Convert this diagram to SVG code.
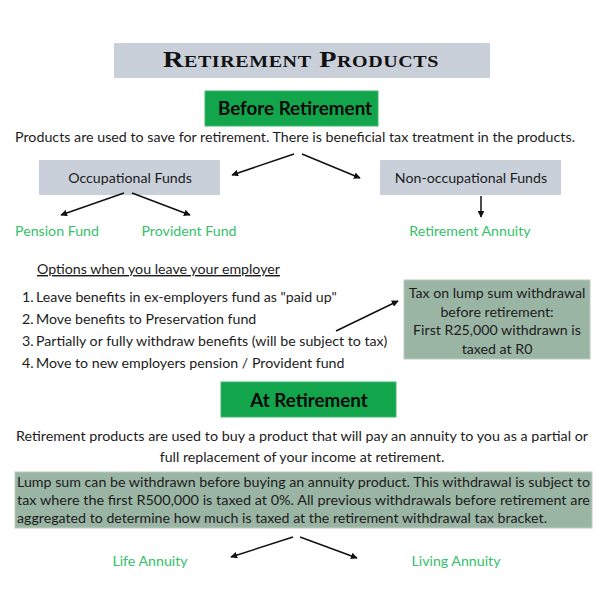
<svg xmlns="http://www.w3.org/2000/svg" width="604" height="604" viewBox="0 0 604 604">
<style>
text{font-family:Lato,"Noto Sans","Liberation Sans",sans-serif;fill:#1c1c1c;font-size:14.2px}
.grey{fill:#c9d0da}
.green{fill:#12a54b;stroke:#3dbb6c;stroke-width:1}
.sage{fill:#9bb5a5;stroke:#b8ccbe;stroke-width:1}
.hd{font-weight:bold;font-size:18.8px;fill:#0a0a0a}
.leaf{fill:#36c16a;font-size:14.2px}
.c{text-anchor:middle}
.conn line{stroke:#111;stroke-width:1.5;marker-end:url(#ah)}
</style>
<defs>
<marker id="ah" viewBox="0 0 10 10" refX="9" refY="5" markerWidth="4.5" markerHeight="4.5" orient="auto" markerUnits="strokeWidth">
<path d="M0,0 L10,5 L0,10 z" fill="#111"/>
</marker>
</defs>
<rect width="604" height="604" fill="#fff"/>

<g id="title">
<rect class="grey" x="114" y="43" width="376" height="35"/>
<text x="301" y="67" class="c" style="font-family:'Liberation Serif','DejaVu Serif',serif;font-weight:bold;font-size:24px;font-variant:small-caps;letter-spacing:0.5px;fill:#111" textLength="276" lengthAdjust="spacingAndGlyphs">Retirement Products</text>
</g>

<g id="before">
<rect class="green" x="205" y="91" width="173" height="35"/>
<text x="295" y="115" class="c hd">Before Retirement</text>
</g>

<g id="intro">
<text x="295" y="142" class="c" textLength="560" lengthAdjust="spacingAndGlyphs">Products are used to save for retirement. There is beneficial tax treatment in the products.</text>
</g>

<g id="occupational">
<rect class="grey" x="39" y="160" width="181" height="35"/>
<text x="130" y="183" class="c">Occupational Funds</text>
</g>

<g id="nonoccupational">
<rect class="grey" x="380" y="160" width="181" height="35"/>
<text x="471" y="183" class="c">Non-occupational Funds</text>
</g>

<g id="pension"><text x="57" y="236" class="c leaf">Pension Fund</text></g>
<g id="provident"><text x="189" y="236" class="c leaf">Provident Fund</text></g>
<g id="ra"><text x="470" y="236" class="c leaf">Retirement Annuity</text></g>

<g id="options">
<text x="37" y="274" text-decoration="underline">Options when you leave your employer</text>
<text x="22" y="302">1.</text><text x="36" y="302">Leave benefits in ex-employers fund as "paid up"</text>
<text x="22" y="324">2.</text><text x="36" y="324">Move benefits to Preservation fund</text>
<text x="22" y="346">3.</text><text x="36" y="346">Partially or fully withdraw benefits (will be subject to tax)</text>
<text x="22" y="368">4.</text><text x="36" y="368">Move to new employers pension / Provident fund</text>
</g>

<g id="tax">
<rect class="sage" x="404" y="280" width="186" height="79"/>
<text x="497" y="298" class="c">Tax on lump sum withdrawal</text>
<text x="497" y="317" class="c">before retirement:</text>
<text x="497" y="335" class="c">First R25,000 withdrawn is</text>
<text x="497" y="354" class="c">taxed at R0</text>
</g>

<g id="at">
<rect class="green" x="221" y="382" width="175" height="35"/>
<text x="309" y="407" class="c hd">At Retirement</text>
</g>

<g id="atdesc">
<text x="302" y="441" class="c" textLength="572" lengthAdjust="spacingAndGlyphs">Retirement products are used to buy a product that will pay an annuity to you as a partial or</text>
<text x="302" y="462" class="c">full replacement of your income at retirement.</text>
</g>

<g id="lump">
<rect class="sage" x="15" y="472" width="577" height="56"/>
<text x="17" y="487" textLength="573" lengthAdjust="spacingAndGlyphs">Lump sum can be withdrawn before buying an annuity product. This withdrawal is subject to</text>
<text x="17" y="505" textLength="573" lengthAdjust="spacingAndGlyphs">tax where the first R500,000 is taxed at 0%. All previous withdrawals before retirement are</text>
<text x="17" y="523" textLength="530" lengthAdjust="spacingAndGlyphs">aggregated to determine how much is taxed at the retirement withdrawal tax bracket.</text>
</g>

<g id="life"><text x="150" y="566" class="c leaf">Life Annuity</text></g>
<g id="living"><text x="456" y="566" class="c leaf">Living Annuity</text></g>

<g id="connectors" class="conn">
<line x1="294" y1="154" x2="232" y2="175"/>
<line x1="302" y1="154" x2="360" y2="178"/>
<line x1="124" y1="193" x2="61" y2="215"/>
<line x1="132" y1="193" x2="190" y2="215"/>
<line x1="481" y1="196" x2="481" y2="217"/>
<line x1="336" y1="331" x2="398" y2="301"/>
<line x1="293" y1="537" x2="231" y2="557"/>
<line x1="300" y1="537" x2="357" y2="558"/>
</g>
</svg>
